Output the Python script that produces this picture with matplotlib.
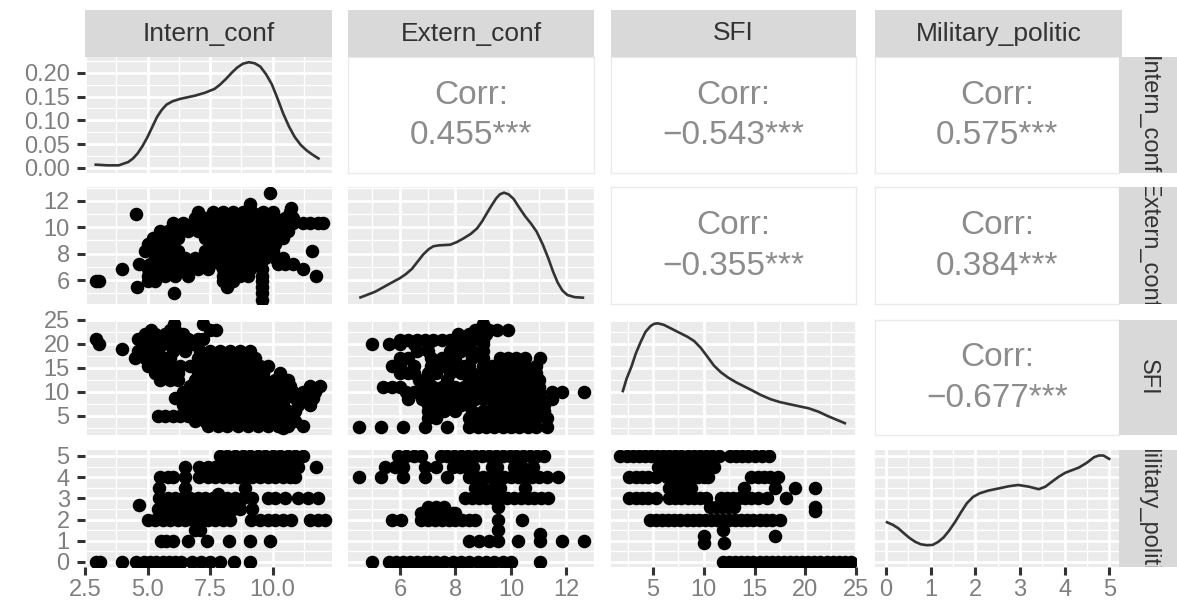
import matplotlib
matplotlib.use("Agg")
import matplotlib.pyplot as plt

plt.rcParams['font.family'] = ['Liberation Sans', 'DejaVu Sans']

names = ["Intern_conf", "Extern_conf", "SFI", "Military_politic"]
x_ticks = [[2.5, 5.0, 7.5, 10.0], [6, 8, 10, 12], [5, 10, 15, 20, 25], [0, 1, 2, 3, 4, 5]]
x_labels = [["2.5", "5.0", "7.5", "10.0"], ["6", "8", "10", "12"], ["5", "10", "15", "20", "25"], ["0", "1", "2", "3", "4", "5"]]
y_ticks = [[0, 0.05, 0.10, 0.15, 0.20], [6, 8, 10, 12], [5, 10, 15, 20, 25], [0, 1, 2, 3, 4, 5]]
y_labels = [["0.00", "0.05", "0.10", "0.15", "0.20"], ["6", "8", "10", "12"], ["5", "10", "15", "20", "25"], ["0", "1", "2", "3", "4", "5"]]
x_minor = [[3.75, 6.25, 8.75, 11.25], [5, 7, 9, 11, 13], [2.5, 7.5, 12.5, 17.5, 22.5], [0.5, 1.5, 2.5, 3.5, 4.5]]
y_minor = [[0.025, 0.075, 0.125, 0.175, 0.225], [5, 7, 9, 11, 13], [2.5, 7.5, 12.5, 17.5, 22.5], [0.5, 1.5, 2.5, 3.5, 4.5]]
x_lims = [(2.5, 12.38), (4.12, 13.0), (0.86, 25.0), (-0.25, 5.22)]
y_lims = [(-0.0105, 0.233), (4.18, 13.06), (1.04, 25.0), (-0.24, 5.28)]

# density curves, in the units of each row's y axis
dens_x = [
    [2.93, 3.39, 3.85, 4.23, 4.42, 4.61, 4.8, 5.0, 5.19, 5.38, 5.57, 5.76, 6.0, 6.30, 6.91, 7.3, 7.68, 7.9, 8.14, 8.37, 8.59, 8.82, 9.05, 9.28, 9.51, 9.74, 9.97, 10.2, 10.43, 10.66, 10.89, 11.12, 11.35, 11.6, 11.84],
    [4.57, 5.10, 5.65, 6.0, 6.21, 6.43, 6.63, 6.84, 7.04, 7.2, 7.4, 7.81, 8.05, 8.29, 8.55, 8.78, 8.96, 9.13, 9.3, 9.47, 9.6, 9.75, 9.92, 10.10, 10.3, 10.51, 10.72, 10.93, 11.15, 11.35, 11.52, 11.69, 11.86, 12.04, 12.3, 12.6],
    [2.03, 2.4, 2.86, 3.3, 3.8, 4.25, 4.74, 5.1, 5.49, 6.05, 6.62, 7.74, 8.4, 9.06, 9.7, 10.38, 11.0, 11.69, 12.4, 13.2, 14.7, 15.6, 16.58, 17.5, 18.46, 20.34, 21.3, 22.2, 23.9],
    [0.02, 0.15, 0.27, 0.40, 0.53, 0.65, 0.78, 0.91, 1.04, 1.17, 1.29, 1.42, 1.55, 1.68, 1.81, 1.95, 2.10, 2.3, 2.53, 2.75, 2.96, 3.2, 3.42, 3.57, 3.72, 3.87, 4.02, 4.17, 4.32, 4.5, 4.66, 4.77, 4.87, 5.0],
]
dens_y = [
    [0.007, 0.0056, 0.0056, 0.0125, 0.02, 0.031, 0.046, 0.065, 0.086, 0.107, 0.122, 0.133, 0.140, 0.145, 0.152, 0.158, 0.166, 0.175, 0.187, 0.200, 0.211, 0.219, 0.222, 0.220, 0.213, 0.197, 0.176, 0.146, 0.114, 0.087, 0.065, 0.049, 0.0375, 0.028, 0.020],
    [4.68, 5.11, 5.75, 6.15, 6.45, 6.85, 7.39, 7.95, 8.35, 8.56, 8.63, 8.68, 8.88, 9.16, 9.5, 9.92, 10.45, 11.06, 11.65, 12.2, 12.5, 12.63, 12.5, 12.15, 11.5, 10.85, 10.3, 9.67, 8.7, 7.65, 6.65, 5.8, 5.2, 4.86, 4.7, 4.66],
    [10.2, 12.8, 15.2, 18, 20.5, 22.5, 23.7, 24.2, 24.3, 24.0, 23.4, 22.2, 21.5, 20.6, 19.2, 17.3, 15.5, 14.1, 13.0, 12.0, 10.4, 9.4, 8.5, 7.9, 7.45, 6.6, 5.9, 5.0, 3.5],
    [1.87, 1.75, 1.59, 1.35, 1.12, 0.95, 0.83, 0.79, 0.80, 0.95, 1.16, 1.5, 1.90, 2.35, 2.77, 3.07, 3.24, 3.37, 3.47, 3.57, 3.63, 3.55, 3.43, 3.55, 3.79, 4.02, 4.21, 4.33, 4.45, 4.68, 4.94, 5.02, 5.02, 4.86],
]

# scatter panels: (y value, x values read at that height)
extern_intern = [
    (12.6, [9.91]), (11.8, [9.08]), (11.5, [10.74]),
    (11.2, [7.0, 7.6, 8.0, 8.4, 8.8, 9.2, 9.6, 10.0, 10.7]), (11.0, [4.54]),
    (10.7, [6.9, 7.3, 7.7, 8.1, 8.5, 8.9, 9.3, 9.7, 10.1, 10.5, 10.8]),
    (10.3, [6.0, 6.4, 6.8, 7.2, 7.6, 8.0, 8.4, 8.8, 9.2, 9.6, 10.0, 10.4, 10.8, 11.2, 11.5, 11.8, 12.0]),
    (9.7, [5.5, 5.8, 6.2, 6.6, 7.0, 7.4, 7.8, 8.2, 8.6, 9.0, 9.4, 9.8, 10.2, 10.6]),
    (9.2, [5.2, 5.6, 6.0, 6.2, 7.3, 7.7, 8.1, 8.5, 8.9, 9.3, 9.7, 10.1, 10.4]),
    (8.7, [5.0, 5.4, 5.9, 7.5, 7.9, 8.3, 8.7, 9.1, 9.5, 9.8, 10.1]),
    (8.2, [4.9, 5.3, 5.7, 6.2, 7.3, 7.7, 8.1, 8.5, 8.9, 9.3, 9.7, 10.0, 11.58]),
    (7.7, [5.3, 5.7, 6.1, 6.5, 6.9, 7.3, 7.7, 8.1, 8.5, 8.9, 9.3, 9.7, 10.1, 10.4]),
    (7.2, [4.64, 5.1, 5.5, 5.9, 6.3, 6.7, 7.1, 7.5, 7.9, 8.3, 8.7, 9.1, 9.5, 10.2, 10.5, 10.8]),
    (6.8, [3.97, 5.0, 5.4, 5.8, 6.2, 6.6, 7.0, 7.4, 8.0, 8.6, 9.1, 9.56, 11.2]),
    (6.3, [5.0, 5.3, 5.7, 6.1, 6.6, 8.0, 8.4, 8.7, 9.0, 9.56, 11.73]),
    (5.9, [2.93, 3.05, 5.0, 5.3, 8.0, 8.4, 9.56]), (5.5, [4.58, 8.2, 9.56]),
    (5.0, [6.04, 9.56]), (4.5, [9.56]),
]
sfi_intern = [
    (24.2, [6.07, 7.2]), (23, [5.15, 5.9, 6.1, 7.5, 7.75]),
    (22, [4.9, 5.3, 5.7, 6.1, 6.4]),
    (21, [2.93, 4.6, 5.0, 5.4, 5.8, 6.2, 6.6, 7.0, 7.2]),
    (19.9, [3.05, 4.8, 5.2, 5.6, 6.0, 6.4, 6.8]), (18.9, [3.97]),
    (18.5, [4.6, 5.0, 5.4, 6.0, 6.5, 7.1, 7.5, 7.9, 8.3, 8.7, 9.1]),
    (17, [4.5, 4.9, 5.3, 5.7, 5.9, 7.0, 7.4, 7.8, 8.2, 8.6, 9.0, 9.3]),
    (15.5, [5.0, 5.4, 5.8, 6.3, 6.7, 7.1, 7.5, 7.9, 8.3, 8.7, 9.1, 9.5, 9.8]),
    (14, [5.3, 5.7, 6.2, 7.0, 7.4, 7.8, 8.2, 8.6, 9.0, 9.4, 9.6, 10.3]),
    (12.5, [5.5, 5.9, 6.2, 6.9, 7.3, 7.7, 8.1, 8.5, 8.9, 9.3, 9.7, 10.1, 10.6]),
    (11.2, [6.7, 7.1, 7.5, 7.9, 8.3, 8.7, 9.1, 9.5, 9.9, 10.3, 10.7, 11.5, 11.9]),
    (10, [6.4, 6.8, 7.2, 7.6, 8.0, 8.4, 8.8, 9.2, 9.6, 10.0, 10.4, 10.8, 11.2, 11.7]),
    (8.7, [6.1, 6.5, 6.9, 7.3, 7.7, 8.1, 8.5, 8.9, 9.3, 9.7, 10.1, 10.5, 10.9, 11.3, 11.6]),
    (7.3, [6.4, 6.8, 7.2, 7.6, 8.0, 8.4, 8.8, 9.2, 9.6, 10.0, 10.4, 11.0, 11.5]),
    (6, [7.0, 7.4, 7.8, 8.2, 8.6, 9.0, 9.4, 9.8, 10.2, 10.6, 10.9]),
    (5, [5.4, 5.7, 6.0, 6.3, 6.6, 6.8, 7.2, 7.6, 8.0, 8.4, 8.8, 9.2, 9.6, 10.0, 10.4, 10.7]),
    (4, [6.9, 7.3, 7.7, 8.1, 8.5, 8.9, 9.3, 9.7, 10.1, 10.5, 10.9]),
    (3, [7.4, 7.8, 8.2, 8.6, 9.0, 9.4, 9.8, 10.2, 10.6, 11.2]), (2.4, [10.4]),
]
sfi_extern = [
    (24.2, [9.0]), (23, [8.7, 9.2, 9.5, 9.9]), (22, [8.1, 8.5, 8.8, 9.1]),
    (20.8, [6.0, 6.3, 6.6, 6.9, 7.2, 7.5, 7.8, 8.1, 8.4, 8.6, 9.0]),
    (20, [5.0, 5.6, 6.0, 6.5, 7.0, 8.0, 8.3, 9.0]),
    (18.5, [6.6, 7.0, 7.8, 8.2, 8.6, 9.0]),
    (17, [6.0, 6.3, 7.1, 7.5, 7.8, 8.0, 8.6, 9.0, 9.6, 9.9, 10.2, 10.5, 11.05]),
    (15.5, [5.7, 6.0, 6.5, 7.1, 7.4, 7.6, 8.0, 8.3, 8.5, 9.0, 9.3, 9.6, 9.9, 10.2, 10.5, 10.9]),
    (14, [6.0, 6.3, 6.5, 7.0, 7.3, 7.8, 8.2, 8.6, 9.0, 9.3, 9.6, 9.9, 10.2, 10.5, 10.9]),
    (12.5, [6.7, 7.0, 7.7, 8.5, 8.8, 9.1, 9.4, 9.7, 10.0, 10.3, 10.6, 11.0]),
    (11, [5.4, 5.7, 6.0, 6.9, 7.2, 7.5, 8.0, 8.3, 8.6, 8.9, 9.2, 9.5, 9.8, 10.1, 10.4, 10.7, 11.0]),
    (9.9, [6.2, 6.5, 6.8, 7.1, 7.4, 7.7, 8.0, 8.3, 8.6, 8.9, 9.2, 9.5, 9.8, 10.1, 10.4, 10.7, 11.0, 11.5, 11.83, 12.64]),
    (8.5, [6.3, 6.8, 7.0, 7.3, 7.6, 7.9, 8.2, 8.5, 8.7, 9.0, 9.3, 9.6, 9.9, 10.2, 10.5, 10.8, 11.1, 11.5]),
    (7.2, [7.0, 7.3, 7.6, 7.9, 8.2, 8.5, 9.4, 9.7, 10.0, 10.3, 10.6, 10.9, 11.2]),
    (6, [7.0, 7.3, 7.6, 8.0, 8.6, 9.0, 9.2, 9.5, 9.8, 10.1, 10.4, 10.7, 11.0, 11.2]),
    (4.5, [7.0, 7.3, 8.5, 8.8, 9.1, 9.4, 9.7, 10.0, 10.3, 10.6, 10.9, 11.3]),
    (2.8, [4.5, 5.3, 6.1, 6.9, 7.7, 8.5, 8.8, 9.1, 9.4, 9.7, 10.0, 10.3, 10.6, 10.9, 11.3]),
]
mil_intern = [
    (5, [7.9, 8.2, 8.5, 8.8, 9.1, 9.4, 9.7, 10.0, 10.3, 10.6, 10.9, 11.2]),
    (4.5, [6.5, 7.06, 7.4, 7.7, 8.0, 8.3, 8.6, 8.9, 9.2, 9.5, 9.8, 10.1, 10.4, 10.7, 11.0, 11.73]),
    (4, [5.5, 5.8, 6.0, 6.5, 7.06, 7.4, 7.7, 8.0, 8.3, 8.6, 8.9, 9.2, 9.5, 9.8, 10.1, 10.4, 10.7, 10.9]),
    (3.5, [5.45, 6.5, 8.9]), (3.2, [7.8]),
    (3, [5.45, 5.8, 6.1, 6.4, 6.7, 7.0, 7.3, 7.6, 7.9, 8.2, 8.5, 8.8, 9.2, 9.8, 10.1, 10.5, 11.0, 11.4, 11.8]),
    (2.7, [4.64]),
    (2.5, [5.4, 5.7, 6.0, 6.3, 6.6, 6.9, 7.2, 7.5, 7.8, 8.1, 8.4, 8.7, 9.2]),
    (2, [5.0, 5.3, 5.6, 5.9, 6.2, 6.5, 6.8, 7.1, 7.4, 7.7, 8.0, 8.3, 9.13, 9.5, 9.8, 10.1, 10.4, 10.74, 11.5, 11.8, 12.1]),
    (1.5, [6.9, 7.1]),
    (1, [5.53, 5.75, 6.0, 6.6, 7.37, 8.24, 9.08, 9.91]),
    (0, [2.93, 3.1, 3.97, 4.54, 4.85, 5.1, 5.35, 5.6, 5.85, 6.1, 6.35, 6.76, 7.14, 7.5, 7.9, 8.44, 9.08]),
]
mil_extern = [
    (5, [5.93, 6.2, 6.5, 6.76, 7.46, 7.7, 7.95, 8.2, 8.45, 8.7, 8.95, 9.2, 9.45, 9.7, 9.95, 10.2, 10.45, 10.7, 10.95, 11.2]),
    (4.5, [5.44, 5.8, 6.1, 6.9, 7.3, 7.9, 8.15, 8.4, 8.65, 9.3, 9.5, 10.1, 10.4, 10.8]),
    (4, [4.5, 5.3, 6.1, 6.9, 7.7, 8.5, 8.75, 9.0, 9.25, 9.5, 9.75, 10.0, 10.25, 10.5, 10.75, 11.0, 11.3, 11.7]),
    (3.5, [8.7, 9.0, 9.4, 9.6, 10.5]),
    (3, [8.36, 8.6, 8.85, 9.1, 9.35, 9.6, 9.85, 10.1, 10.35, 10.6, 10.85, 11.1, 11.35]),
    (2.6, [7.0, 7.3, 7.6, 9.54]), (2.3, [6.76, 7.0, 7.3, 7.6, 7.9, 8.0]),
    (2, [5.7, 6.05, 6.76, 7.0, 7.25, 7.5, 7.75, 8.0, 8.25, 8.5, 8.7, 9.54, 10.4]),
    (1.5, [9.54]),
    (1, [8.5, 8.85, 9.2, 9.54, 10.24, 11.05, 11.83, 12.64]), (1.3, [11.05]),
    (0, [5.0, 5.6, 5.85, 6.1, 6.35, 6.6, 6.85, 7.05, 7.3, 7.6, 7.9, 8.2, 8.5, 8.8, 9.1, 9.4, 9.7, 10.0, 11.05]),
]
mil_sfi = [
    (5, [1.73, 2.4, 3.0, 3.6, 4.2, 4.8, 5.4, 6.0, 6.6, 7.2, 7.8, 8.4, 9.0, 9.6, 10.2, 10.8, 11.5, 12.6, 13.2, 13.8, 14.4, 15.0, 15.7, 16.4]),
    (4.5, [5.5, 6.1, 6.7, 7.3, 7.9, 8.5, 9.1, 9.7, 10.3, 11.0]),
    (4, [2.67, 3.3, 3.9, 4.5, 5.3, 6.4, 7.0, 7.6, 8.2, 8.8, 9.4, 10.0, 10.4, 14.7, 15.3, 15.9, 16.5, 17.3]),
    (3.5, [6.6, 7.2, 7.8, 8.4, 8.7, 14.0, 17.0, 19.0, 21.0]),
    (3, [2.67, 3.3, 3.9, 4.5, 5.3, 6.6, 7.2, 7.8, 8.4, 9.0, 9.6, 10.2, 11.7, 12.3, 12.9, 13.5, 14.1, 14.7, 15.3, 16.2, 18.1]),
    (2.6, [10.6, 11.2, 11.8, 12.4, 13.0, 21.0]), (2.4, [21.0]),
    (2, [4.7, 5.3, 5.9, 6.5, 7.1, 7.7, 8.3, 8.9, 9.5, 10.1, 10.7, 11.3, 11.9, 12.5, 13.1, 13.7, 14.3, 14.9, 15.5, 16.1, 16.7, 17.5]),
    (1.5, [11.9]),
    (1.2, [10.0, 17.0]), (0.9, [10.0, 12.0]),
    (0, [11.9, 12.5, 13.1, 13.7, 14.3, 14.9, 15.5, 16.1, 16.7, 17.3, 17.9, 18.5, 19.1, 19.7, 20.3, 20.9, 21.5, 22.1, 22.7, 23.3, 23.9, 24.5]),
]
scatter_panels = {(1, 0): extern_intern, (2, 0): sfi_intern, (2, 1): sfi_extern,
                  (3, 0): mil_intern, (3, 1): mil_extern, (3, 2): mil_sfi}

corr_values = {(0, 1): "0.455***", (0, 2): "\u22120.543***", (0, 3): "0.575***",
               (1, 2): "\u22120.355***", (1, 3): "0.384***", (2, 3): "\u22120.677***"}

W, H = 1177, 606
col_px = [(85, 332), (348, 594), (611, 856), (875, 1119)]
row_px = [(57, 173), (187, 304), (320, 435), (450, 567)]


def add_px(fig, x0, x1, y0, y1, **kw):
    return fig.add_axes([x0 / W, 1 - y1 / H, (x1 - x0) / W, (y1 - y0) / H], **kw)


fig = plt.figure(figsize=(W / 100, H / 100), dpi=100)
tick_col = "#7f7f7f"

for r in range(4):
    for c in range(4):
        ax = add_px(fig, col_px[c][0], col_px[c][1], row_px[r][0], row_px[r][1])
        ax.set_xlim(x_lims[c])
        ax.set_ylim(y_lims[r])
        for s in ax.spines.values():
            s.set_visible(False)
        ax.tick_params(which="minor", length=0)
        ax.tick_params(which="major", length=6, width=2.2, color="#333333", labelcolor=tick_col, labelsize=17, pad=5)

        if r < c:
            # correlation text panel
            for s in ax.spines.values():
                s.set_visible(True)
                s.set_color("#ebebeb")
                s.set_linewidth(1)
            ax.set_xticks([])
            ax.set_yticks([])
            ax.text(0.5, 0.67, "Corr:", transform=ax.transAxes, ha="center", va="center", fontsize=24, color="#8c8c8c")
            ax.text(0.5, 0.32, corr_values[(r, c)], transform=ax.transAxes, ha="center", va="center", fontsize=24, color="#8c8c8c")
            continue

        ax.set_facecolor("#ebebeb")
        ax.set_axisbelow(True)
        ax.set_xticks(x_ticks[c])
        ax.set_yticks(y_ticks[r])
        ax.set_xticks(x_minor[c], minor=True)
        ax.set_yticks(y_minor[r], minor=True)
        ax.grid(which="major", color="white", linewidth=2.0)
        ax.grid(which="minor", color="white", linewidth=1.0)

        if r == 3:
            ax.set_xticklabels(x_labels[c])
            ax.tick_params(axis="x", which="major", pad=3)
        else:
            ax.tick_params(axis="x", which="major", length=0, labelbottom=False)
        if c == 0:
            ax.set_yticklabels(y_labels[r])
        else:
            ax.tick_params(axis="y", which="major", length=0, labelleft=False)

        if r == c:
            ax.plot(dens_x[c], dens_y[c], color="#333333", linewidth=1.9)
        else:
            for yv, xs in scatter_panels[(r, c)]:
                ax.scatter(xs, [yv] * len(xs), s=95, color="black", linewidths=0, zorder=3)

# column strips
for c in range(4):
    right = 1122 if c == 3 else col_px[c][1]
    st = add_px(fig, col_px[c][0], right, 10, 57, facecolor="#d9d9d9")
    st.set_xticks([])
    st.set_yticks([])
    for s in st.spines.values():
        s.set_visible(False)
    st.text(0.5, 0.5, names[c], transform=st.transAxes, ha="center", va="center", fontsize=19, color="#333333")

# row strips, wider text gets cut by the strip as in the original
for r in range(4):
    st = add_px(fig, 1119, W, row_px[r][0], row_px[r][1], facecolor="#d9d9d9")
    st.set_xticks([])
    st.set_yticks([])
    for s in st.spines.values():
        s.set_visible(False)
    st.text(0.5, 0.5, names[r], transform=st.transAxes, ha="center", va="center", rotation=-90,
            fontsize=17, color="#333333", clip_on=True)

fig.savefig("out.png", dpi=100)
